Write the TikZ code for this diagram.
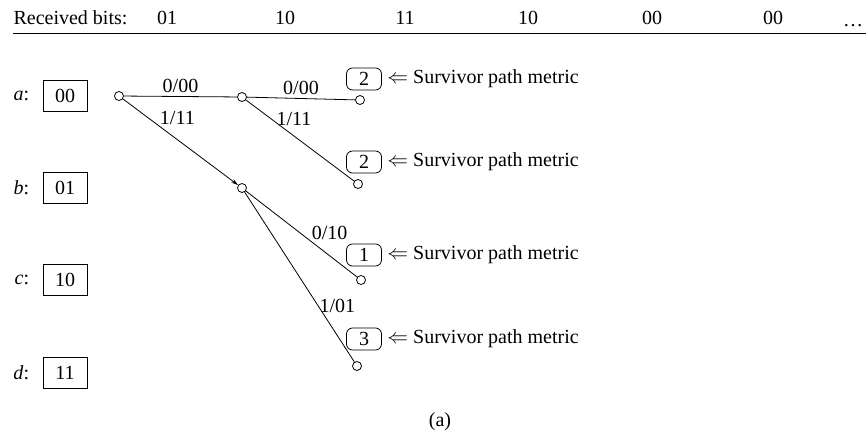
\documentclass[tikz,border=0pt]{standalone}
\usepackage{fontspec}
\setmainfont{Liberation Serif}
\usepackage{tikz}
\usetikzlibrary{arrows.meta,positioning}

\begin{document}
\begin{tikzpicture}[
  x=1pt, y=-1pt,
  font=\fontsize{20}{23}\selectfont,
  state/.style={draw, line width=0.8pt, minimum width=44pt, minimum height=31pt, inner sep=0pt},
  metric/.style={draw, line width=0.8pt, rounded corners=6pt, minimum width=35pt, minimum height=22pt, inner sep=0pt},
  dot/.style={circle, draw, line width=0.8pt, minimum size=9pt, inner sep=0pt, fill=white},
  edge/.style={line width=0.8pt},
  arr/.style={-{Stealth[length=7pt,width=4pt]}, line width=0.8pt},
  note/.style={right=2pt of #1}
]
\useasboundingbox (0,0) rectangle (868,434);

% received sequence
\node[anchor=west] (rxlabel) at (10,18) {Received bits:};
\node (rx1) at (167,18) {01};
\node (rx2) at (285,18) {10};
\node (rx3) at (405,18) {11};
\node (rx4) at (528,18) {10};
\node (rx5) at (652,18) {00};
\node (rx6) at (773,18) {00};
\node (rxmore) at (853,26) {\dots};
\coordinate (rule0) at (13,33);
\coordinate (rule1) at (866,33);
\draw[edge] (rule0) -- (rule1);

% states
\node[state] (sa) at (65,96) {00};
\node[state] (sb) at (65,188) {01};
\node[state] (sc) at (65,280) {10};
\node[state] (sd) at (65,373) {11};
\node[left=10pt of sa] (la) {\textit{a}:};
\node[left=10pt of sb] (lb) {\textit{b}:};
\node[left=10pt of sc] (lc) {\textit{c}:};
\node[left=10pt of sd] (ld) {\textit{d}:};

% trellis nodes
\node[dot] (a0) at (119,96) {};
\node[dot] (a1) at (242,97) {};
\node[dot] (a2) at (360,100) {};
\node[dot] (b1) at (242,188) {};
\node[dot] (b2) at (358,184) {};
\node[dot] (c2) at (361,280) {};
\node[dot] (d2) at (357,366) {};

% path metrics
\node[metric] (m1) at (364,79) {2};
\node[metric] (m2) at (364,162) {2};
\node[metric] (m3) at (364,255) {1};
\node[metric] (m4) at (364,339) {3};
\node[note=m1] (n1) {$\Leftarrow$ Survivor path metric};
\node[note=m2] (n2) {$\Leftarrow$ Survivor path metric};
\node[note=m3] (n3) {$\Leftarrow$ Survivor path metric};
\node[note=m4] (n4) {$\Leftarrow$ Survivor path metric};

% branches
\draw[edge] (a0) -- node[above] {0/00} (a1);
\draw[edge] (a1) -- node[above] {0/00} (a2);
\draw[arr] (a0) -- node[pos=0.22, anchor=west, xshift=8pt] {1/11} (b1);
\draw[edge] (a1) -- node[pos=0.23, anchor=west, xshift=2pt] {1/11} (b2);
\draw[edge] (b1) -- node[pos=0.58, anchor=south west, inner sep=1pt] {0/10} (c2);
\draw[edge] (b1) -- node[pos=0.67, anchor=west, inner sep=1pt] {1/01} (d2);

\node (cap) at (440,422) {(a)};
\end{tikzpicture}
\end{document}
